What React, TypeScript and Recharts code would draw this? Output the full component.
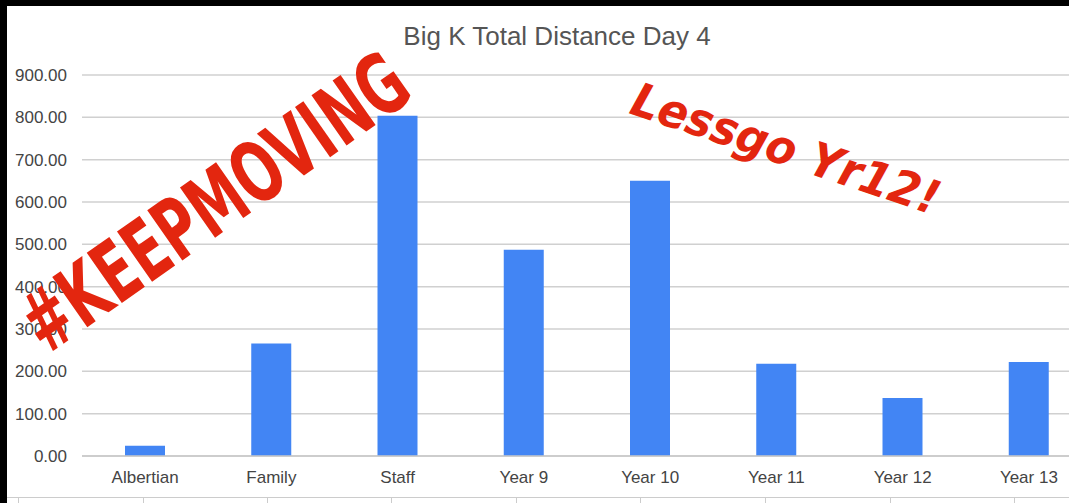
import React from "react";
import { BarChart, Bar, XAxis, YAxis, CartesianGrid } from "recharts";

const categories = ["Albertian", "Family", "Staff", "Year 9", "Year 10", "Year 11", "Year 12", "Year 13"];
const distances = [24, 266, 804, 487, 650, 218, 137, 222];
const yTicks = [0, 100, 200, 300, 400, 500, 600, 700, 800, 900];
const title = "Big K Total Distance Day 4";
const stamp1 = "#KEEPMOVING";
const stamp2 = "Lessgo Yr12!";

const data = categories.map((c, i) => ({ name: c, value: distances[i] }));

const sheetCols = [18, 143, 267, 391, 516, 640, 765, 890, 1014];

export default function App() {
  return (
    <div style={{ position: "fixed", left: 0, top: 0, width: 1069, height: 503, background: "#000", overflow: "hidden" }}>
      <div style={{ position: "absolute", left: 7, top: 6, width: 1062, height: 497, background: "#fff", overflow: "hidden" }}>
        <BarChart
          width={1085}
          height={497}
          data={data}
          margin={{ top: 69, right: 0, bottom: 17, left: 0 }}
          barCategoryGap={0}
        >
          <CartesianGrid vertical={false} stroke="#d0d0d0" strokeWidth={1.5} />
          <XAxis
            dataKey="name"
            height={30}
            tickLine={false}
            axisLine={{ stroke: "#c8c8c8", strokeWidth: 1.5 }}
            tickSize={6}
            tickMargin={9}
            interval={0}
            tick={{ fill: "#444", fontSize: 17, fontFamily: "Liberation Sans, Arial, sans-serif" }}
          />
          <YAxis
            width={75}
            domain={[0, 900]}
            ticks={yTicks}
            tickFormatter={(v: number) => v.toFixed(2)}
            tickLine={false}
            axisLine={false}
            tickSize={6}
            tickMargin={9}
            tick={{ fill: "#444", fontSize: 17, fontFamily: "Liberation Sans, Arial, sans-serif" }}
          />
          <Bar dataKey="value" fill="#4285f4" barSize={40} isAnimationActive={false} />
        </BarChart>
      </div>
      <svg width={1069} height={503} style={{ position: "absolute", left: 0, top: 0, pointerEvents: "none" }}>
        <text x={557} y={45} textAnchor="middle" fontSize={26} fill="#555" fontFamily="Liberation Sans, Arial, sans-serif">
          {title}
        </text>
        <text
          x={0}
          y={0}
          transform="translate(46 356) rotate(-35)"
          fontSize={84}
          fontWeight={900}
          fill="#e3260f"
          fontFamily="DejaVu Sans, sans-serif"
          textLength={452}
          lengthAdjust="spacingAndGlyphs"
        >
          {stamp1}
        </text>
        <text
          x={0}
          y={0}
          transform="translate(628 113) rotate(18.5)"
          fontSize={47}
          fontWeight={700}
          fontStyle="italic"
          fill="#e3260f"
          fontFamily="DejaVu Sans, sans-serif"
          textLength={322}
          lengthAdjust="spacingAndGlyphs"
        >
          {stamp2}
        </text>
        <line x1={7} y1={497.5} x2={1069} y2={497.5} stroke="#ccc" strokeWidth={1} />
        {sheetCols.map((x) => (
          <line key={x} x1={x + 0.5} y1={497} x2={x + 0.5} y2={503} stroke="#ccc" strokeWidth={1} />
        ))}
      </svg>
    </div>
  );
}
